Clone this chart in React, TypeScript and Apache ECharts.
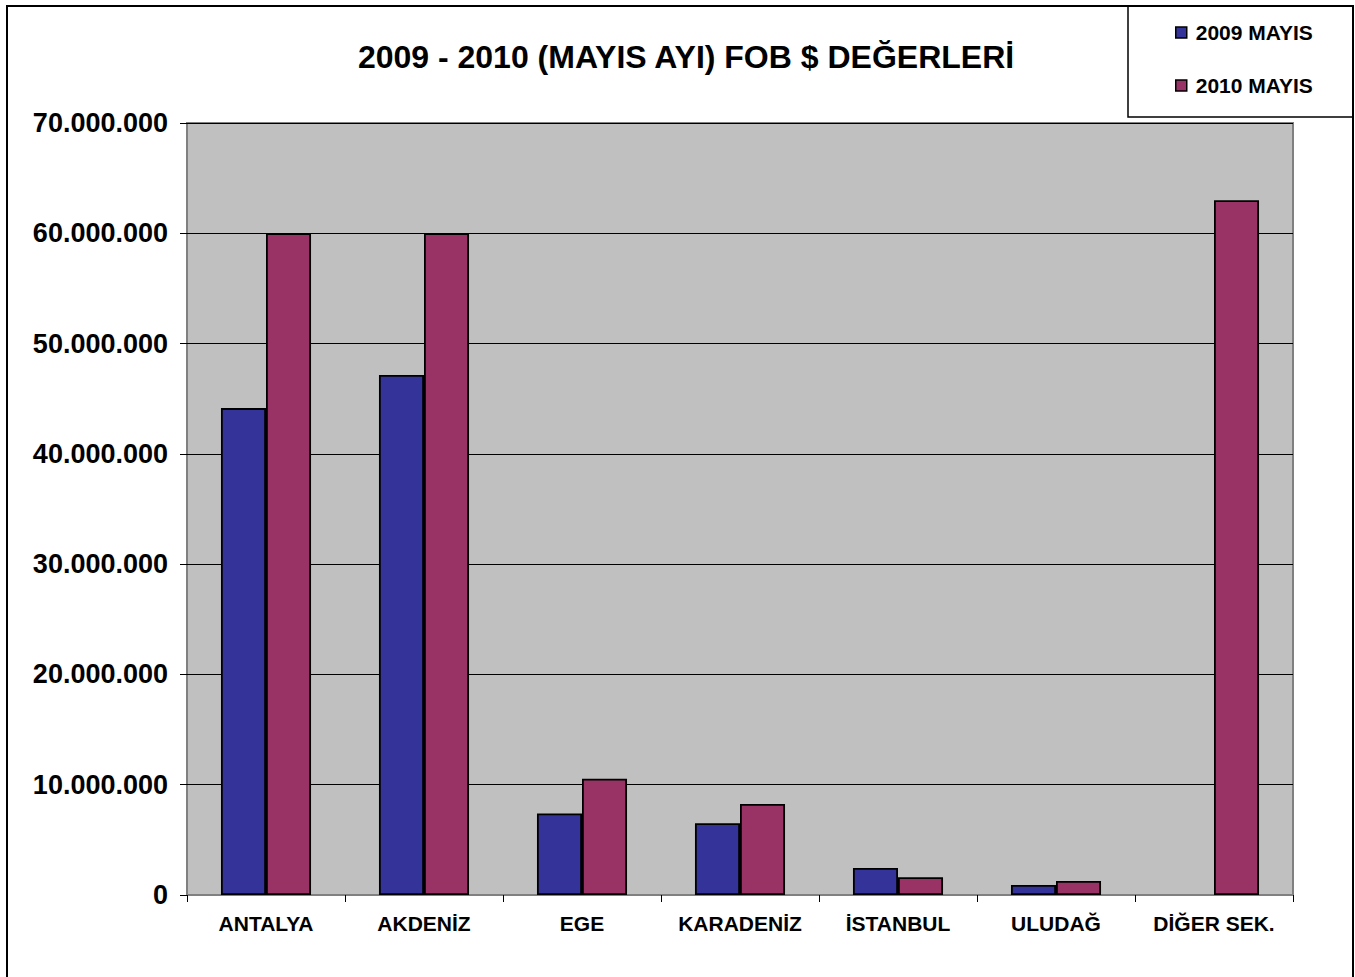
import React, { useEffect, useRef } from "react";
import * as echarts from "echarts";

const categories = ["ANTALYA", "AKDENİZ", "EGE", "KARADENİZ", "İSTANBUL", "ULUDAĞ", "DİĞER SEK."];
const values2009 = [44150000, 47150000, 7400000, 6500000, 2450000, 900000, null];
const values2010 = [60000000, 60000000, 10550000, 8250000, 1620000, 1270000, 63000000];
const seriesNames = ["2009 MAYIS", "2010 MAYIS"];
const titleText = "2009 - 2010 (MAYIS AYI) FOB $ DEĞERLERİ";

const fmt = (v: number) => {
  const s = String(Math.round(v));
  return s.replace(/\B(?=(\d{3})+(?!\d))/g, ".");
};

export default function App() {
  const ref = useRef<HTMLDivElement>(null);
  useEffect(() => {
    if (!ref.current) return;
    const chart = echarts.init(ref.current, null, { renderer: "svg" });
    const font = "'Liberation Sans', Arial, sans-serif";
    chart.setOption({
      animation: false,
      backgroundColor: "#ffffff",
      title: {
        text: titleText,
        left: 681,
        textAlign: "center",
        top: 36,
        textStyle: { fontFamily: font, fontWeight: "bold", fontSize: 32, color: "#000" },
      },
      legend: {
        orient: "vertical",
        left: 1170,
        top: 17,
        itemWidth: 11,
        itemHeight: 11,
        itemGap: 32,
        icon: "rect",
        data: seriesNames,
        textStyle: { fontFamily: font, fontWeight: "bold", fontSize: 21, color: "#000", padding: [0, 0, 0, 4] },
        itemStyle: { borderColor: "#000", borderWidth: 1.5 },
      },
      graphic: [
        {
          type: "rect",
          shape: { x: 7, y: 6, width: 1346, height: 1000 },
          style: { fill: "none", stroke: "#000", lineWidth: 2 },
          silent: true,
          z: -1,
        },
        {
          type: "rect",
          shape: { x: 1128, y: 6, width: 225, height: 111 },
          style: { fill: "none", stroke: "#000", lineWidth: 1.5 },
          silent: true,
        },
      ],
      grid: {
        left: 187,
        top: 123,
        width: 1106,
        height: 772,
        show: true,
        backgroundColor: "#c0c0c0",
        borderColor: "#808080",
        borderWidth: 2,
      },
      xAxis: {
        type: "category",
        data: categories,
        axisLine: { show: true, lineStyle: { color: "#808080", width: 2 } },
        axisTick: { show: true, interval: 0, length: 7, alignWithLabel: false, lineStyle: { color: "#000", width: 1 } },
        axisLabel: {
          interval: 0,
          hideOverlap: false,
          margin: 18,
          fontFamily: font,
          fontWeight: "bold",
          fontSize: 21,
          color: "#000",
        },
      },
      yAxis: {
        type: "value",
        min: 0,
        max: 70000000,
        interval: 10000000,
        axisLine: { show: false },
        axisTick: { show: true, length: 7, lineStyle: { color: "#000" } },
        splitLine: { show: true, lineStyle: { color: "#000", width: 1 } },
        axisLabel: {
          margin: 19,
          fontFamily: font,
          fontWeight: "bold",
          fontSize: 27,
          color: "#000",
          formatter: (v: number) => fmt(v),
        },
      },
      series: [
        {
          name: seriesNames[0],
          type: "bar",
          data: values2009,
          barGap: "0%",
          barCategoryGap: "43%",
          itemStyle: { color: "#333399", borderColor: "#000", borderWidth: 1.8 },
        },
        {
          name: seriesNames[1],
          type: "bar",
          data: values2010,
          barGap: "0%",
          barCategoryGap: "43%",
          itemStyle: { color: "#993366", borderColor: "#000", borderWidth: 1.8 },
        },
      ],
    });
    return () => chart.dispose();
  }, []);
  return (
    <div
      ref={ref}
      style={{ position: "absolute", left: 0, top: 0, width: 1355, height: 977 }}
    />
  );
}
